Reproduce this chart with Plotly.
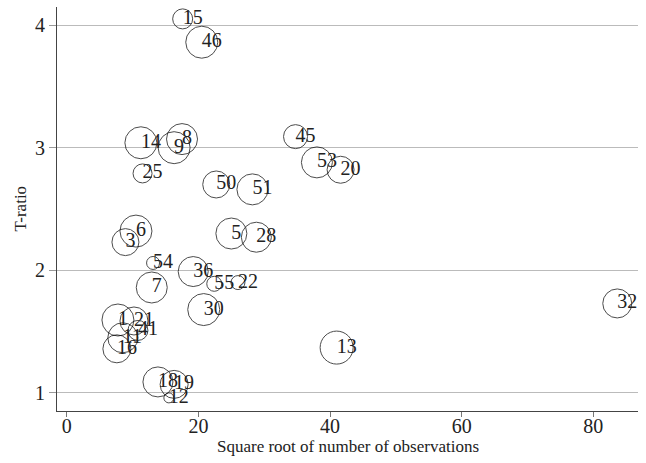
import plotly.graph_objects as go

labels = ["15", "46", "14", "9", "8", "25", "50", "51", "45", "53", "20",
          "6", "3", "5", "28", "54", "36", "55", "22", "7", "30", "32", "13",
          "18", "19", "12", "1", "21", "41", "11", "16"]
sqrt_n = [17.6, 20.5, 11.25, 16.3, 17.5, 11.5, 22.7, 28.2, 34.75, 38.0, 41.6,
          10.5, 8.9, 25.0, 28.8, 13.1, 19.2, 22.4, 26.0, 12.9, 20.8, 83.65, 41.0,
          13.84, 16.3, 15.5, 7.76, 10.2, 10.8, 8.5, 7.6]
t_ratio = [4.05, 3.86, 3.04, 3.00, 3.07, 2.79, 2.70, 2.66, 3.09, 2.88, 2.82,
           2.32, 2.23, 2.30, 2.27, 2.06, 1.99, 1.89, 1.90, 1.86, 1.68, 1.73, 1.37,
           1.09, 1.07, 0.96, 1.595, 1.587, 1.51, 1.45, 1.36]
weight = [20, 32, 32, 32, 31, 19, 27, 31, 24, 31, 27,
          32, 27, 31, 30, 13, 30, 15, 14, 31, 32, 29, 33,
          30, 28, 10, 32, 28, 20, 30, 28]

x_ticks = [0, 20, 40, 60, 80]
y_ticks = [1, 2, 3, 4]

FONT = "Liberation Serif"
FS = 20
TS = 17

fig = go.Figure()
fig.add_trace(go.Scatter(
    x=sqrt_n, y=t_ratio, mode="markers",
    marker=dict(size=weight, sizemode="diameter", sizeref=1,
                color="rgba(0,0,0,0)", line=dict(color="black", width=1)),
    hoverinfo="skip", showlegend=False))
fig.add_trace(go.Scatter(
    x=sqrt_n, y=t_ratio, mode="text", text=labels,
    textposition="middle right",
    textfont=dict(family=FONT, size=FS, color="#222"),
    hoverinfo="skip", showlegend=False))

fig.update_layout(
    width=646, height=463,
    margin=dict(l=57, r=8, t=7, b=52),
    paper_bgcolor="white", plot_bgcolor="white",
    font=dict(family=FONT, size=FS, color="#222"),
    xaxis=dict(range=[-1.5, 86.8], tickvals=x_ticks, ticks="outside",
               ticklen=5, tickcolor="#777", showgrid=False, zeroline=False,
               showline=True, linecolor="#444", linewidth=1, automargin=False,
               ticklabelstandoff=-8,
               tickfont=dict(size=FS)),
    yaxis=dict(range=[0.853, 4.147], tickvals=y_ticks, ticks="outside",
               ticklen=7, tickcolor="#999", showgrid=True, gridcolor="#bbb",
               gridwidth=1, zeroline=False, automargin=False,
               showline=True, linecolor="#444", linewidth=1,
               tickfont=dict(size=FS)),
    annotations=[
        dict(text="Square root of number of observations", xref="paper",
             yref="paper", x=0.5, y=-0.089, xanchor="center", yanchor="middle",
             showarrow=False, font=dict(family=FONT, size=TS, color="#222")),
        dict(text="T-ratio", xref="paper", yref="paper", x=-0.0645, y=0.5,
             xanchor="center", yanchor="middle", textangle=-90,
             showarrow=False, font=dict(family=FONT, size=TS, color="#222")),
    ],
)

fig.write_html("out.html", config={"displayModeBar": False},
               post_script="document.body.style.margin='0';")
